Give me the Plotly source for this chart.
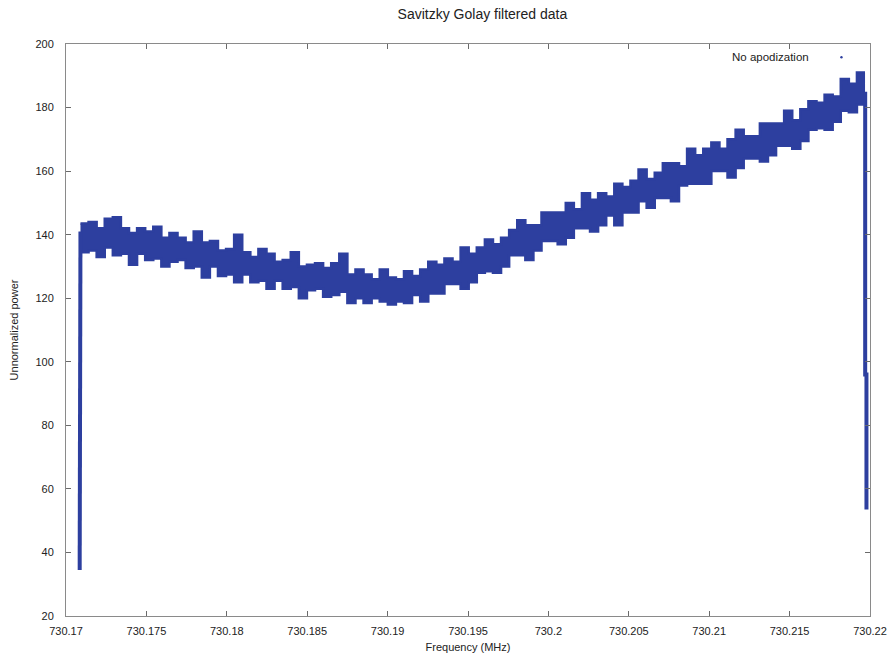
import plotly.graph_objects as go

# ---- data ----
x_start = 730.1709
x_step = 0.000503
upper = [143.5, 144, 142, 145, 145.5, 142, 140.5, 142, 141, 142.5,
         139, 140.5, 139, 137.5, 141, 137.5, 138, 135, 135.5, 140,
         134.5, 133, 135.5, 134, 131.5, 132, 134.5, 130, 130.5, 131,
         129.5, 131, 134, 127.5, 129, 127.5, 126, 129, 126.5, 126,
         128.5, 127, 129, 131.5, 130.5, 132.5, 131.5, 136, 134, 136,
         138.5, 137, 139, 141.5, 144.5, 143, 143, 147, 147, 147,
         150, 148, 153, 151, 153, 152, 156, 155, 157, 160.5,
         157.5, 159.5, 162.5, 162.5, 161.5, 167, 165, 167, 169, 167,
         170, 173, 171, 171, 175, 175, 175, 179, 176, 179.5,
         182, 181.5, 184, 183.5, 189, 187.5, 191, 191]
lower = [134.5, 135, 133, 136, 133.5, 134, 130.5, 134, 132, 132.5,
         130, 131.5, 132, 129.5, 130, 126.5, 130, 127, 127.5, 125,
         127.5, 125, 125.5, 123, 125.5, 123, 123.5, 120, 122.5, 123,
         120.5, 121, 122, 118.5, 120, 118.5, 120, 119, 118, 119,
         118.5, 121, 119, 121.5, 121.5, 124.5, 124.5, 123, 125, 128,
         128.5, 128, 130, 133.5, 133.5, 132, 135, 138, 138, 137,
         139, 142, 142, 141, 143, 146, 143, 147, 147, 150.5,
         148.5, 151.5, 151.5, 150.5, 155.5, 156, 156, 156, 160, 160,
         158, 161, 164, 164, 163, 165, 168, 168, 167, 169.5,
         173, 173.5, 173, 175.5, 179, 178.5, 181, 182]
freq = [round(x_start + x_step * i, 6) for i in range(len(upper))]

left_edge_x = [730.17085, 730.17085, 730.17090, 730.17090]
left_edge_y = [34.5, 103, 103, 141]
right_edge_x = [730.21970, 730.21970, 730.21978, 730.21978]
right_edge_y = [185, 96, 96, 53.5]

y_ticks = [20, 40, 60, 80, 100, 120, 140, 160, 180, 200]
x_ticks = [730.17, 730.175, 730.18, 730.185, 730.19, 730.195,
           730.2, 730.205, 730.21, 730.215, 730.22]
x_tick_text = ["730.17", "730.175", "730.18", "730.185", "730.19", "730.195",
               "730.2", "730.205", "730.21", "730.215", "730.22"]

blue = "#2d3f9f"
font = "Liberation Sans, Arial, sans-serif"

fig = go.Figure()
fig.add_trace(go.Scatter(x=freq, y=lower, mode="lines", line=dict(color=blue, width=2.5, shape="hv"),
                         showlegend=False, hoverinfo="skip"))
fig.add_trace(go.Scatter(x=freq, y=upper, mode="lines", line=dict(color=blue, width=2.5, shape="hv"),
                         fill="tonexty", fillcolor=blue, name="No apodization", showlegend=False))
fig.add_trace(go.Scatter(x=left_edge_x, y=left_edge_y, mode="lines", line=dict(color=blue, width=4),
                         showlegend=False))
fig.add_trace(go.Scatter(x=right_edge_x, y=right_edge_y, mode="lines", line=dict(color=blue, width=4),
                         showlegend=False))

axis_common = dict(showline=True, linecolor="#8a8a8a", linewidth=1, mirror="ticks",
                   ticks="inside", ticklen=5, tickcolor="#6a6a6a", showgrid=False, zeroline=False,
                   automargin=False, tickfont=dict(family=font, size=11, color="#222"))

fig.update_xaxes(range=[730.17, 730.22], tickvals=x_ticks, ticktext=x_tick_text, ticklabelstandoff=5,
                 title=dict(text="Frequency (MHz)", font=dict(family=font, size=11, color="#222"), standoff=7),
                 **axis_common)
fig.update_yaxes(range=[20, 200], tickvals=y_ticks, ticklabelstandoff=9,
                 title=dict(text="Unnormalized power", font=dict(family=font, size=11, color="#222"), standoff=14),
                 **axis_common)

fig.add_annotation(x=0.926, y=0.977, xref="paper", yref="paper", text="No apodization",
                   showarrow=False, xanchor="right", yanchor="middle",
                   font=dict(family=font, size=11.5, color="#222"))
fig.add_shape(type="circle", xref="paper", yref="paper", x0=0.963, x1=0.966, y0=0.9745, y1=0.979,
              fillcolor=blue, line=dict(color=blue, width=0))

fig.update_layout(
    width=895, height=658,
    margin=dict(l=66, r=25, t=44, b=42),
    title=dict(text="Savitzky Golay filtered data", x=0.539, xanchor="center", y=0.978, yanchor="middle",
               font=dict(family=font, size=14, color="#222")),
    paper_bgcolor="white", plot_bgcolor="white",
)

fig.write_html("out.html")
